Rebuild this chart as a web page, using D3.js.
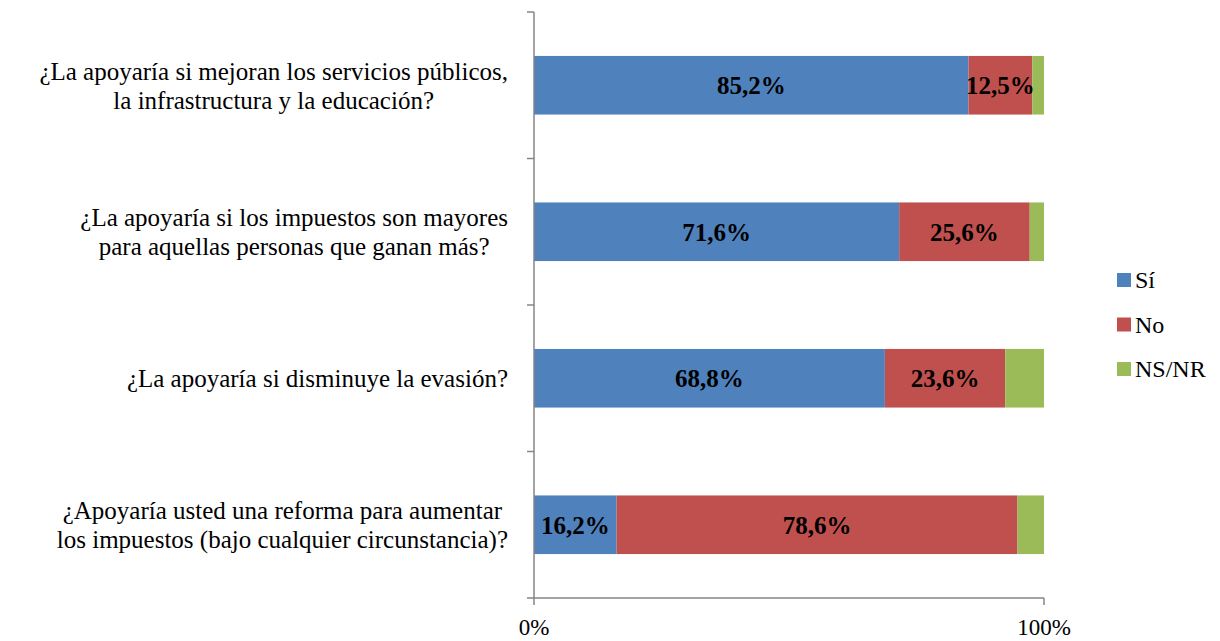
<!DOCTYPE html>
<meta charset="utf-8">
<style>
  body { margin: 0; background: #fff; }
  svg text { font-family: "Liberation Serif", "Times New Roman", serif; fill: #000; }
</style>
<body>
<script src="https://d3js.org/d3.v7.min.js"></script>
<script>
var questions = [
  ["¿La apoyaría si mejoran los servicios públicos,", "la infrastructura y la educación?"],
  ["¿La apoyaría si los impuestos son mayores", "para aquellas personas que ganan más?"],
  ["¿La apoyaría si disminuye la evasión?"],
  ["¿Apoyaría usted una reforma para aumentar", "los impuestos (bajo cualquier circunstancia)?"]
];
var series = ["Sí", "No", "NS/NR"];
var si   = [85.2, 71.6, 68.8, 16.2];
var no   = [12.5, 25.6, 23.6, 78.6];
var nsnr = [2.3, 2.8, 7.6, 5.2];
var ticks = [0, 100];
var colors = ["#4F81BD", "#C0504D", "#9BBB59"];

var width = 1220, height = 641;

var svg = d3.select("body").append("svg")
    .attr("width", width)
    .attr("height", height);

var x = d3.scaleLinear().domain([0, 100]).range([534, 1044]);
var y = d3.scaleBand().domain(d3.range(questions.length)).range([12, 598]).paddingInner(0.6).paddingOuter(0.3);

var rows = questions.map(function(q, i) {
  return {i: i, vals: [si[i], no[i], nsnr[i]]};
});

// bars
rows.forEach(function(r) {
  var cum = 0;
  var segs = r.vals.map(function(v, k) {
    var s = {k: k, v: v, x0: cum, x1: cum + v};
    cum += v;
    return s;
  });
  var g = svg.append("g");
  g.selectAll("rect").data(segs).enter().append("rect")
    .attr("x", function(d) { return x(d.x0); })
    .attr("width", function(d) { return x(d.x1) - x(d.x0); })
    .attr("y", y(r.i))
    .attr("height", y.bandwidth())
    .attr("fill", function(d) { return colors[d.k]; });
  g.selectAll("text").data(segs.filter(function(d) { return d.k < 2; })).enter().append("text")
    .attr("x", function(d) { return (x(d.x0) + x(d.x1)) / 2; })
    .attr("y", y(r.i) + y.bandwidth() / 2)
    .attr("dy", "0.35em")
    .attr("text-anchor", "middle")
    .attr("font-weight", "bold")
    .attr("font-size", "25px")
    .text(function(d) { return d.v.toFixed(1).replace(".", ",") + "%"; });
});

// axes
var axisColor = "#868686";
svg.append("line").attr("x1", 534).attr("x2", 534).attr("y1", 12).attr("y2", 598)
  .attr("stroke", axisColor).attr("stroke-width", 1.5);
var yTicks = d3.range(questions.length + 1).map(function(i) { return 12 + i * (586 / questions.length); });
svg.selectAll(".yt").data(yTicks).enter().append("line")
  .attr("x1", 527).attr("x2", 534)
  .attr("y1", function(d) { return d; }).attr("y2", function(d) { return d; })
  .attr("stroke", axisColor).attr("stroke-width", 1.5);

svg.append("line").attr("x1", 534).attr("x2", 1044).attr("y1", 598).attr("y2", 598)
  .attr("stroke", axisColor).attr("stroke-width", 1.5);
svg.selectAll(".xt").data(ticks).enter().append("line")
  .attr("x1", function(d) { return x(d); }).attr("x2", function(d) { return x(d); })
  .attr("y1", 598).attr("y2", 605)
  .attr("stroke", axisColor).attr("stroke-width", 1.5);
svg.selectAll(".xl").data(ticks).enter().append("text")
  .attr("x", function(d) { return x(d); })
  .attr("y", 627)
  .attr("dy", "0.35em")
  .attr("text-anchor", "middle")
  .attr("font-size", "23px")
  .text(function(d) { return d + "%"; });

// category labels: lines centered inside a box right-aligned near the axis
var labelRight = 508, lineH = 29;
rows.forEach(function(r) {
  var lines = questions[r.i];
  var cy = y(r.i) + y.bandwidth() / 2;
  var t = svg.append("g").selectAll("text").data(lines).enter().append("text")
    .attr("font-size", "25px")
    .attr("dy", "0.35em")
    .attr("y", function(d, j) { return cy + (j - (lines.length - 1) / 2) * lineH; })
    .text(function(d) { return d; });
  var maxW = 0;
  t.each(function() { maxW = Math.max(maxW, this.getComputedTextLength()); });
  t.attr("text-anchor", "middle").attr("x", labelRight - maxW / 2);
});

// legend
var leg = svg.append("g").selectAll("g").data(series).enter().append("g")
  .attr("transform", function(d, i) { return "translate(1117," + (280 + i * 44.5) + ")"; });
leg.append("rect").attr("x", 0).attr("y", -7).attr("width", 14).attr("height", 14)
  .attr("fill", function(d, i) { return colors[i]; });
leg.append("text").attr("x", 18).attr("dy", "0.35em")
  .attr("font-size", "24px")
  .text(function(d) { return d; });
</script>
</body>
